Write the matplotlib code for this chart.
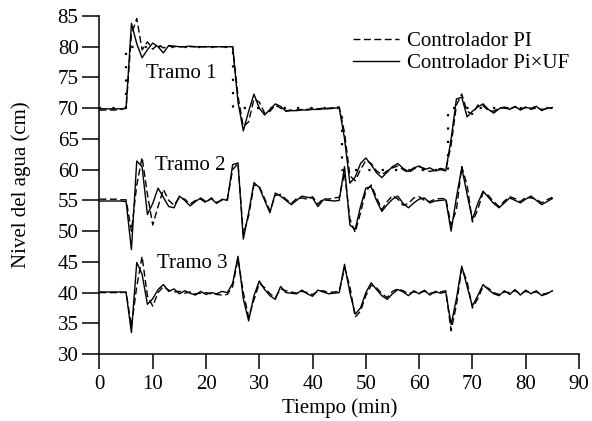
import matplotlib
matplotlib.use("Agg")
import matplotlib.pyplot as plt
import numpy as np

plt.rcParams['font.family'] = ['Liberation Serif', 'DejaVu Serif']

# time grid (min)
t = [0, 1, 2, 3, 4, 5, 6, 7, 8, 9, 10, 11, 12, 13, 14, 15, 16, 17, 18, 19,
     20, 21, 22, 23, 24, 25, 26, 27, 28, 29, 30, 31, 32, 33, 34, 35, 36, 37, 38, 39,
     40, 41, 42, 43, 44, 45, 46, 47, 48, 49, 50, 51, 52, 53, 54, 55, 56, 57, 58, 59,
     60, 61, 62, 63, 64, 65, 66, 67, 68, 69, 70, 71, 72, 73, 74, 75, 76, 77, 78, 79,
     80, 81, 82, 83, 84, 85]

# Tramo 1 setpoint (dotted)
sp_t = [0, 5, 5, 25, 25, 45.5, 45.5, 65.5, 65.5, 85]
sp_v = [70, 70, 80, 80, 70, 70, 60, 60, 70, 70]

# Tramo 1
t1_piuf = [69.9, 69.9, 69.9, 69.9, 69.9, 70.0, 83.8, 80.5, 78.2, 79.5,
           80.6, 80.0, 79.0, 80.2, 80.1, 80.0, 80.0, 80.1, 80.0, 80.0,
           80.0, 80.0, 80.0, 80.0, 80.0, 80.0, 71.0, 66.3, 69.5, 72.3,
           70.0, 68.9, 69.8, 70.7, 70.3, 69.5, 69.6, 69.6, 69.7, 69.7,
           69.8, 69.8, 69.9, 69.9, 70.0, 70.1, 65.0, 57.8, 58.8, 61.0,
           61.9, 60.8, 59.5, 58.7, 59.6, 60.5, 61.0, 60.2, 59.7, 60.3,
           60.6, 60.0, 60.3, 59.8, 60.0, 59.8, 65.0, 71.5, 71.8, 68.6,
           69.5, 70.2, 70.7, 69.8, 69.2, 69.9, 70.2, 69.8, 70.3, 69.7,
           70.1, 70.0, 70.3, 69.6, 70.0, 70.1]
t1_pi = [69.7, 69.7, 69.7, 69.7, 69.8, 70.0, 82.0, 84.6, 79.5, 80.8,
         79.6, 80.4, 79.8, 80.1, 80.0, 80.0, 80.0, 80.0, 80.0, 80.0,
         80.0, 80.0, 80.0, 80.0, 80.0, 80.0, 72.0, 67.0, 67.8, 71.5,
         71.0, 69.2, 69.5, 70.5, 70.0, 69.6, 69.7, 69.7, 69.8, 69.8,
         69.9, 69.9, 70.0, 70.0, 70.1, 70.2, 66.0, 59.0, 58.2, 60.0,
         61.5, 61.0, 59.8, 59.2, 59.8, 60.3, 60.6, 60.0, 59.5, 60.1,
         60.5, 60.2, 59.7, 59.9, 60.2, 60.0, 64.0, 70.5, 72.3, 69.5,
         69.0, 70.5, 70.4, 69.6, 69.5, 70.1, 70.0, 69.9, 70.2, 69.8,
         70.2, 69.8, 70.1, 69.8, 69.9, 70.0]

# Tramo 2
t2_piuf = [54.9, 54.9, 54.9, 54.9, 54.9, 54.8, 47.0, 61.4, 60.5, 52.7,
           54.5, 57.0, 55.5, 54.0, 53.8, 55.7, 55.0, 54.1, 54.8, 55.4,
           54.8, 55.3, 54.5, 55.2, 55.0, 60.8, 61.1, 48.7, 53.0, 57.9,
           57.1, 55.0, 53.0, 56.2, 55.7, 55.0, 54.3, 55.0, 55.7, 55.5,
           55.4, 54.0, 55.1, 55.0, 54.9, 55.0, 60.5, 51.0, 50.3, 54.0,
           57.0, 57.2, 55.0, 53.2, 54.3, 55.2, 55.7, 54.5, 53.8, 54.6,
           55.2, 55.4, 54.6, 54.9, 55.0, 55.1, 50.0, 55.5, 60.3, 56.0,
           51.9, 54.5, 56.5, 55.5, 54.5, 53.8, 54.6, 55.4, 55.0, 54.6,
           55.2, 55.7, 55.0, 54.3, 54.8, 55.3]
t2_pi = [55.2, 55.2, 55.2, 55.2, 55.1, 55.1, 50.0, 57.5, 62.0, 56.0,
         51.0, 54.0, 56.8, 55.0, 54.2, 55.5, 55.2, 54.4, 55.0, 55.2,
         54.6, 55.4, 54.7, 55.0, 55.2, 60.0, 61.0, 49.5, 52.5, 57.5,
         57.3, 55.3, 53.3, 55.8, 56.0, 55.2, 54.5, 55.3, 55.4, 55.2,
         55.6, 54.4, 55.3, 55.2, 55.4, 55.5, 59.5, 52.0, 49.8, 53.0,
         56.5, 57.5, 55.5, 53.5, 54.8, 55.8, 55.2, 54.2, 54.5, 55.4,
         55.6, 55.0, 54.8, 55.2, 55.3, 55.3, 51.0, 53.5, 60.5, 57.5,
         51.5, 53.5, 56.3, 55.8, 54.8, 54.0, 54.9, 55.6, 55.3, 54.8,
         55.5, 55.4, 55.2, 54.6, 55.1, 55.5]

# Tramo 3
t3_piuf = [40.1, 40.1, 40.1, 40.1, 40.1, 40.0, 33.5, 44.9, 43.0, 38.1,
           39.0, 40.5, 41.3, 40.2, 40.6, 39.8, 40.3, 39.9, 39.6, 40.2,
           39.7, 40.0, 39.8, 40.2, 40.0, 41.5, 45.9, 39.0, 35.4, 39.5,
           41.9, 40.5, 39.5, 38.9, 41.0, 40.0, 39.9, 39.8, 40.4, 39.8,
           39.4, 40.4, 40.1, 39.8, 39.9, 40.0, 44.6, 40.0, 36.5, 37.5,
           40.0, 41.6, 40.5, 39.5, 38.9, 39.8, 40.5, 40.1, 39.5, 40.3,
           39.8, 40.4, 39.6, 40.2, 39.9, 40.1, 34.8, 39.0, 44.3, 41.0,
           37.8, 39.5, 41.3, 40.5, 39.8, 39.5, 40.3, 39.7, 40.5, 39.6,
           40.4, 39.8, 40.3, 39.5, 39.8, 40.3]
t3_pi = [40.0, 40.0, 40.0, 40.0, 40.0, 40.1, 34.5, 41.0, 45.9, 39.5,
         37.8, 40.0, 41.0, 40.4, 40.1, 40.2, 39.9, 40.1, 39.8, 39.9,
         40.0, 39.8, 39.7, 39.6, 39.7, 41.0, 45.5, 40.0, 36.0, 38.8,
         41.5, 40.8, 39.8, 39.2, 40.6, 40.3, 40.1, 39.9, 40.2, 40.0,
         39.7, 40.2, 40.3, 40.0, 40.1, 40.2, 44.0, 41.0, 36.0, 37.0,
         39.5, 41.2, 40.8, 39.8, 39.2, 40.2, 40.6, 40.3, 39.8, 40.1,
         40.0, 40.2, 39.9, 40.0, 40.1, 40.3, 33.8, 38.0, 44.0, 41.8,
         37.5, 39.0, 41.0, 40.7, 40.0, 39.7, 40.1, 40.0, 40.3, 39.8,
         40.2, 40.0, 40.1, 39.7, 39.9, 40.2]

labels = ["Tramo 1", "Tramo 2", "Tramo 3"]
label_pos = [(15.3, 75.6), (17.0, 60.6), (17.5, 44.7)]

FS = 15

fig = plt.figure(figsize=(5.92, 4.21), dpi=100)
ax = fig.add_axes([0.168, 0.159, 0.810, 0.803])

lw = 1.0
dash = (0, (5, 2.5))
ax.plot(sp_t, sp_v, color='black', linestyle=(0, (1, 5)), lw=1.6)
ax.plot(t, t1_pi, color='black', linestyle=dash, lw=lw, label='Controlador PI')
ax.plot(t, t1_piuf, color='black', linestyle='-', lw=lw, label='Controlador Pi\u00d7UF')
ax.plot(t, t2_pi, color='black', linestyle=dash, lw=lw)
ax.plot(t, t2_piuf, color='black', linestyle='-', lw=lw)
ax.plot(t, t3_pi, color='black', linestyle=dash, lw=lw)
ax.plot(t, t3_piuf, color='black', linestyle='-', lw=lw)

for lab, (x, y) in zip(labels, label_pos):
    ax.text(x, y, lab, fontsize=FS, ha='center', va='center')

ax.set_xlim(0, 90)
ax.set_ylim(30, 85)
ax.set_xticks(range(0, 91, 10))
ax.set_yticks(range(30, 86, 5))
ax.spines['top'].set_visible(False)
ax.spines['right'].set_visible(False)
for s in ['left', 'bottom']:
    ax.spines[s].set_linewidth(1.1)
ax.tick_params(axis='x', direction='out', length=11, width=1.1, pad=4, labelsize=FS)
ax.tick_params(axis='y', direction='out', length=12, width=1.1, pad=3, labelsize=FS)

ax.set_xlabel('Tiempo (min)', fontsize=FS, labelpad=3)
ax.set_ylabel('Nivel del agua (cm)', fontsize=FS, labelpad=19)

leg = ax.legend(loc='upper right', bbox_to_anchor=(1.005, 0.99), frameon=False,
                fontsize=FS, handlelength=2.2, handletextpad=0.35,
                labelspacing=0.1, borderpad=0.1)

fig.savefig('out.png', dpi=100)
